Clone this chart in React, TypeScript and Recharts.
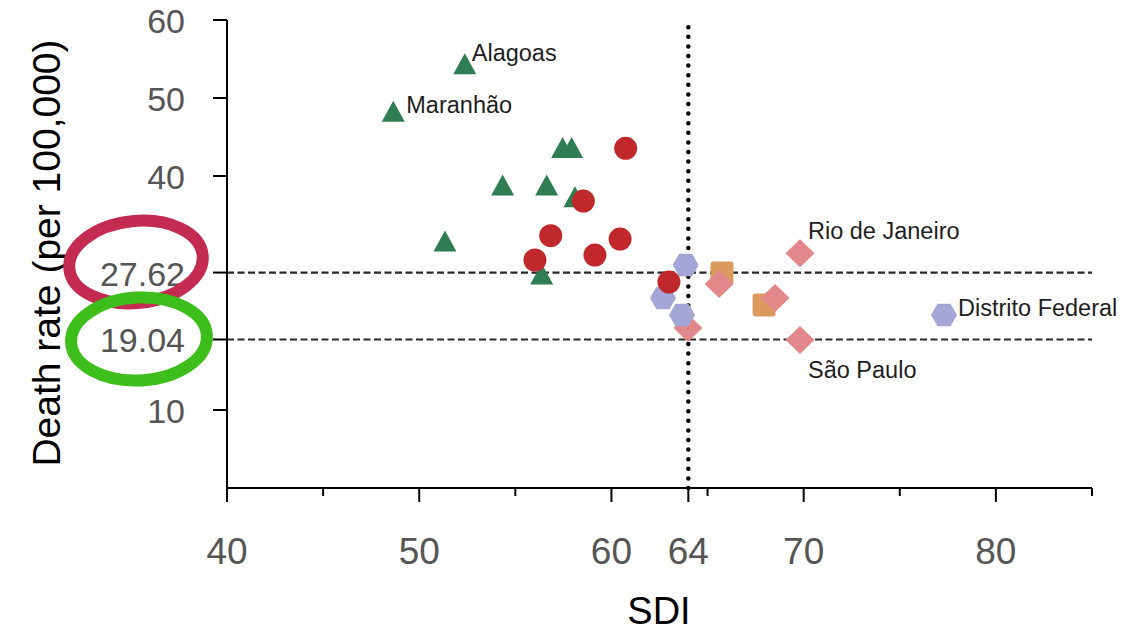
import { ScatterChart, Scatter, XAxis, YAxis, ReferenceLine } from "recharts";

// axis ticks
const X_TICKS = [40, 45, 50, 55, 60, 64, 65, 70, 75, 80, 85];
const X_LABELED = [40, 50, 60, 64, 70, 80];
const Y_TICKS = [10, 19.04, 27.62, 40, 50, 60];
const RATE_LINES = [27.62, 19.04];
const SDI_LINE = 64;

// points: sdi (x), rate (y)
const triangles = [
  { sdi: 52.37, rate: 54.38, state: "Alagoas" },
  { sdi: 48.65, rate: 48.29, state: "Maranhão" },
  { sdi: 57.46, rate: 43.65 },
  { sdi: 57.93, rate: 43.65 },
  { sdi: 54.34, rate: 38.85 },
  { sdi: 56.63, rate: 38.85 },
  { sdi: 58.1, rate: 37.35 },
  { sdi: 51.34, rate: 31.67 },
  { sdi: 56.37, rate: 27.44 },
];

const circles = [
  { sdi: 60.74, rate: 43.55 },
  { sdi: 58.54, rate: 36.79 },
  { sdi: 56.84, rate: 32.35 },
  { sdi: 60.45, rate: 31.92 },
  { sdi: 59.14, rate: 29.87 },
  { sdi: 56.02, rate: 29.23 },
  { sdi: 62.99, rate: 26.41 },
];

const hexagons = [
  { sdi: 63.86, rate: 28.59 },
  { sdi: 62.68, rate: 24.36 },
  { sdi: 63.67, rate: 22.18 },
  { sdi: 77.3, rate: 22.18, state: "Distrito Federal" },
];

const squares = [
  { sdi: 65.75, rate: 27.56 },
  { sdi: 67.94, rate: 23.46 },
];

const diamonds = [
  { sdi: 69.81, rate: 30.09, state: "Rio de Janeiro" },
  { sdi: 65.6, rate: 26.15 },
  { sdi: 68.51, rate: 24.36 },
  { sdi: 63.98, rate: 20.51 },
  { sdi: 69.81, rate: 18.97, state: "São Paulo" },
];

const FONT = "'Liberation Sans', Arial, sans-serif";

// where each state name sits relative to its marker
const LABEL_OFFSET: Record<string, [number, number]> = {
  Alagoas: [7, -11],
  "Maranhão": [13, -6],
  "Rio de Janeiro": [8, -22],
  "Distrito Federal": [14, -7],
  "São Paulo": [8, 30],
};

function StateLabel({ cx, cy, name }: { cx: number; cy: number; name?: string }) {
  if (!name) return null;
  const [dx, dy] = LABEL_OFFSET[name] || [10, -10];
  return (
    <text x={cx + dx} y={cy + dy} dominantBaseline="central" fontSize={23.5} fill="#1e1e1e" fontFamily={FONT}>
      {name}
    </text>
  );
}

const triangleShape = (p: any) => (
  <g>
    <polygon
      points={`${p.cx},${p.cy - 10.5} ${p.cx + 11.5},${p.cy + 10.5} ${p.cx - 11.5},${p.cy + 10.5}`}
      fill="#2f7d52"
    />
    <StateLabel cx={p.cx} cy={p.cy} name={p.payload?.state} />
  </g>
);

const circleShape = (p: any) => <circle cx={p.cx} cy={p.cy} r={11.5} fill="#c1282b" />;

const hexagonShape = (p: any) => {
  const r = 13;
  const pts = [0, 60, 120, 180, 240, 300]
    .map((a) => {
      const t = (a * Math.PI) / 180;
      return `${p.cx + r * Math.cos(t)},${p.cy + r * Math.sin(t)}`;
    })
    .join(" ");
  return (
    <g>
      <polygon points={pts} fill="#a3a6d6" />
      <StateLabel cx={p.cx} cy={p.cy} name={p.payload?.state} />
    </g>
  );
};

const squareShape = (p: any) => (
  <rect x={p.cx - 11.5} y={p.cy - 11.5} width={23} height={23} rx={3} fill="#dc9b5e" />
);

const diamondShape = (p: any) => (
  <g>
    <polygon
      points={`${p.cx},${p.cy - 14} ${p.cx + 14.5},${p.cy} ${p.cx},${p.cy + 14} ${p.cx - 14.5},${p.cy}`}
      fill="#e2888b"
    />
    <StateLabel cx={p.cx} cy={p.cy} name={p.payload?.state} />
  </g>
);

const XTick = (props: any) => {
  const { x, y, payload } = props;
  const major = X_LABELED.includes(payload.value);
  return (
    <g>
      <line x1={x} x2={x} y1={y} y2={y + (major ? 14 : 8)} stroke="#000" strokeWidth={2} />
      {major && (
        <text x={x} y={y + 63} textAnchor="middle" dominantBaseline="central" fontSize={37} fill="#555" fontFamily={FONT}>
          {payload.value}
        </text>
      )}
    </g>
  );
};

const YTick = (props: any) => {
  const { x, y, payload } = props;
  return (
    <g>
      <line x1={x - 14} x2={x} y1={y} y2={y} stroke="#000" strokeWidth={2} />
      <text x={x - 42} y={y + 1} textAnchor="end" dominantBaseline="central" fontSize={34} fill="#555" fontFamily={FONT}>
        {String(payload.value)}
      </text>
    </g>
  );
};

export default function App() {
  return (
    <div style={{ position: "relative", width: 1142, height: 633, background: "#fff" }}>
      <style>{"body{margin:0}"}</style>
      <ScatterChart width={1142} height={633} margin={{ top: 20, right: 50, bottom: 0, left: 0 }}>
        <XAxis
          type="number"
          dataKey="sdi"
          domain={[40, 85]}
          ticks={X_TICKS}
          interval={0}
          height={145}
          tickSize={0}
          tickMargin={0}
          tickLine={false}
          tick={XTick}
          axisLine={{ stroke: "#000", strokeWidth: 2 }}
          label={{
            content: () => (
              <text x={659} y={624} textAnchor="middle" fontSize={38} fill="#000" fontFamily={FONT}>
                SDI
              </text>
            ),
          }}
        />
        <YAxis
          type="number"
          dataKey="rate"
          domain={[0, 60]}
          ticks={Y_TICKS}
          interval={0}
          width={227}
          tickSize={0}
          tickMargin={0}
          tickLine={false}
          tick={YTick}
          axisLine={{ stroke: "#000", strokeWidth: 2 }}
          label={{
            content: () => (
              <text
                x={60}
                y={253}
                transform="rotate(-90, 60, 253)"
                textAnchor="middle"
                fontSize={39}
                fill="#000"
                fontFamily={FONT}
              >
                Death rate (per 100,000)
              </text>
            ),
          }}
        />
        <Scatter data={squares} shape={squareShape} isAnimationActive={false} />
        <Scatter data={diamonds} shape={diamondShape} isAnimationActive={false} />
        <Scatter data={hexagons} shape={hexagonShape} isAnimationActive={false} />
        <Scatter data={triangles} shape={triangleShape} isAnimationActive={false} />
        <Scatter data={circles} shape={circleShape} isAnimationActive={false} />
        {RATE_LINES.map((v) => (
          <ReferenceLine key={v} y={v} stroke="#2a2a2a" strokeWidth={2.2} strokeDasharray="7 3.5" />
        ))}
        <ReferenceLine
          x={SDI_LINE}
          stroke="#000"
          strokeWidth={4.5}
          strokeLinecap="round"
          strokeDasharray="0 9.6"
        />
      </ScatterChart>
      <svg width={1142} height={633} style={{ position: "absolute", left: 0, top: 0, pointerEvents: "none" }}>
        <ellipse cx={136} cy={262} rx={67} ry={41} transform="rotate(-6, 136, 262)" fill="none" stroke="#c42b52" strokeWidth={12} />
        <ellipse cx={139} cy={339} rx={68} ry={41.5} transform="rotate(-3, 139, 339)" fill="none" stroke="#3dbe1a" strokeWidth={12} />
      </svg>
    </div>
  );
}
